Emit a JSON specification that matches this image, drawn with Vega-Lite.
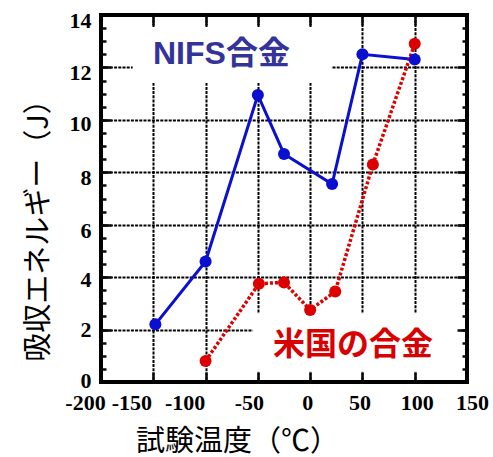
{
  "$schema": "https://vega.github.io/schema/vega-lite/v6.json",
  "width": 366,
  "height": 367,
  "autosize": {"type": "none"},
  "padding": {"left": 101, "top": 15, "right": 26, "bottom": 75},
  "background": "white",
  "config": {
    "view": {"stroke": "black", "strokeWidth": 4},
    "axis": {
      "labelColor": "black", "titleColor": "black", "gridColor": "black",
      "labelFont": "Liberation Serif", "labelFontWeight": "bold", "labelFontSize": 22
    }
  },
  "datasets": {
    "tests": [
      {"alloy": "NIFS合金", "temp": -148, "energy": 2.2},
      {"alloy": "NIFS合金", "temp": -100, "energy": 4.6},
      {"alloy": "NIFS合金", "temp": -50, "energy": 10.95},
      {"alloy": "NIFS合金", "temp": -25, "energy": 8.7},
      {"alloy": "NIFS合金", "temp": 21, "energy": 7.55},
      {"alloy": "NIFS合金", "temp": 50, "energy": 12.5},
      {"alloy": "NIFS合金", "temp": 100, "energy": 12.3},
      {"alloy": "米国の合金", "temp": -100, "energy": 0.8},
      {"alloy": "米国の合金", "temp": -49, "energy": 3.75},
      {"alloy": "米国の合金", "temp": -25, "energy": 3.8},
      {"alloy": "米国の合金", "temp": 0, "energy": 2.75},
      {"alloy": "米国の合金", "temp": 24, "energy": 3.45},
      {"alloy": "米国の合金", "temp": 60, "energy": 8.3},
      {"alloy": "米国の合金", "temp": 100, "energy": 12.9}
    ],
    "names": [
      {"alloy": "NIFS合金", "temp": -84.8, "energy": 12.5, "t0": -169.7, "t1": 20.6, "e0": 11.41, "e1": 13.54},
      {"alloy": "米国の合金", "temp": 41, "energy": 1.4, "t0": -54.6, "t1": 144, "e0": 0.4, "e1": 2.62}
    ]
  },
  "resolve": {
    "scale": {"x": "independent", "y": "independent"},
    "axis": {"x": "independent", "y": "independent"}
  },
  "layer": [
    {
      "data": {"name": "names"},
      "mark": {"type": "rect", "fill": "white", "stroke": null},
      "encoding": {
        "x": {
          "field": "t0", "type": "quantitative",
          "scale": {"domain": [-200, 150], "nice": false, "zero": false},
          "axis": {
            "orient": "bottom",
            "values": [-200, -150, -100, -50, 0, 50, 100, 150],
            "grid": true, "gridDash": [3, 1.2], "gridWidth": 2,
            "ticks": false, "domain": false,
            "labelExpr": "replace(datum.label, '−', '-')",
            "labelPadding": 10, "labelFlush": false, "labelOverlap": false,
            "labelOffset": {
              "condition": [
                {"test": "datum.value === -200", "value": -16},
                {"test": "datum.value === -150", "value": -22},
                {"test": "datum.value === -100", "value": -21},
                {"test": "datum.value === -50", "value": -9},
                {"test": "datum.value === 100", "value": 2},
                {"test": "datum.value === 150", "value": 5}
              ],
              "value": -3
            },
            "title": "試験温度（℃）",
            "titleFont": "Noto Sans CJK JP", "titleFontWeight": "normal", "titleFontSize": 29,
            "titleAlign": "center", "titleBaseline": "alphabetic",
            "titleX": 136, "titleY": 68
          }
        },
        "x2": {"field": "t1"},
        "y": {
          "field": "e0", "type": "quantitative",
          "scale": {"domain": [0, 14], "nice": false, "zero": false},
          "axis": {
            "orient": "left",
            "values": [0, 2, 4, 6, 8, 10, 12, 14],
            "grid": true, "gridDash": [3, 1.2], "gridWidth": 2,
            "ticks": false, "domain": false,
            "labelPadding": 10, "labelFlush": false, "labelOverlap": false,
            "labelOffset": {
              "condition": [
                {"test": "datum.value === 0", "value": -2},
                {"test": "datum.value === 2", "value": 0},
                {"test": "datum.value === 4", "value": 2.5},
                {"test": "datum.value === 10", "value": 4}
              ],
              "value": 5.5
            },
            "title": "吸収エネルギー（J）",
            "titleFont": "Noto Sans CJK JP", "titleFontWeight": "normal", "titleFontSize": 29,
            "titleAngle": 270, "titleAlign": "center", "titleBaseline": "alphabetic",
            "titleX": -54, "titleY": 208
          }
        },
        "y2": {"field": "e1"}
      }
    },
    {
      "data": {"name": "tests"},
      "transform": [{"filter": "datum.alloy === 'NIFS合金'"}],
      "mark": {"type": "line", "strokeWidth": 3},
      "encoding": {
        "x": {
          "field": "temp", "type": "quantitative",
          "scale": {"domain": [-200, 150], "nice": false, "zero": false},
          "axis": {
            "orient": "bottom",
            "values": [-150, -100, -50, 0, 50, 100],
            "labels": false, "domain": false, "grid": false, "ticks": true,
            "tickSize": -10, "tickWidth": 2.5, "tickColor": "#0a0a0a", "tickOpacity": 1, "title": null, "zindex": 1
          }
        },
        "y": {
          "field": "energy", "type": "quantitative",
          "scale": {"domain": [0, 14], "nice": false, "zero": false},
          "axis": {
            "orient": "left",
            "values": [0.5, 1, 1.5, 2, 2.5, 3, 3.5, 4, 4.5, 5, 5.5, 6, 6.5, 7, 7.5, 8, 8.5, 9, 9.5, 10, 10.5, 11, 11.5, 12, 12.5, 13, 13.5],
            "labels": false, "domain": false, "grid": false, "ticks": true,
            "tickSize": -5, "tickWidth": 2.5, "tickColor": "#0a0a0a", "tickOpacity": 1, "title": null, "zindex": 1
          }
        },
        "color": {
          "field": "alloy", "type": "nominal",
          "scale": {"domain": ["NIFS合金", "米国の合金"], "range": ["#0a0fd0", "#dd0000"]},
          "legend": null
        }
      }
    },
    {
      "data": {"name": "tests"},
      "transform": [{"filter": "datum.alloy === '米国の合金'"}],
      "mark": {"type": "line", "strokeWidth": 3.5, "strokeDash": [3, 2]},
      "encoding": {
        "x": {
          "field": "temp", "type": "quantitative",
          "scale": {"domain": [-200, 150], "nice": false, "zero": false},
          "axis": {
            "orient": "top",
            "values": [-150, -100, -50, 0, 50, 100],
            "labels": false, "domain": false, "grid": false, "ticks": true,
            "tickSize": -10, "tickWidth": 2.5, "tickColor": "#0a0a0a", "tickOpacity": 1, "title": null, "zindex": 1
          }
        },
        "y": {
          "field": "energy", "type": "quantitative",
          "scale": {"domain": [0, 14], "nice": false, "zero": false},
          "axis": {
            "orient": "right",
            "values": [0.5, 1, 1.5, 2, 2.5, 3, 3.5, 4, 4.5, 5, 5.5, 6, 6.5, 7, 7.5, 8, 8.5, 9, 9.5, 10, 10.5, 11, 11.5, 12, 12.5, 13, 13.5],
            "labels": false, "domain": false, "grid": false, "ticks": true,
            "tickSize": -5, "tickWidth": 2.5, "tickColor": "#0a0a0a", "tickOpacity": 1, "title": null, "zindex": 1
          }
        },
        "color": {"field": "alloy", "type": "nominal", "legend": null}
      }
    },
    {
      "data": {"name": "tests"},
      "mark": {"type": "circle", "size": 145, "opacity": 1},
      "encoding": {
        "x": {
          "field": "temp", "type": "quantitative",
          "scale": {"domain": [-200, 150], "nice": false, "zero": false},
          "axis": null
        },
        "y": {
          "field": "energy", "type": "quantitative",
          "scale": {"domain": [0, 14], "nice": false, "zero": false},
          "axis": {
            "orient": "right",
            "values": [2, 4, 6, 8, 10, 12],
            "labels": false, "domain": false, "grid": false, "ticks": true,
            "tickSize": -10, "tickWidth": 2.5, "tickColor": "#0a0a0a", "tickOpacity": 1, "title": null, "zindex": 1
          }
        },
        "color": {"field": "alloy", "type": "nominal", "legend": null}
      }
    },
    {
      "data": {"name": "names"},
      "mark": {"type": "text", "fontWeight": "bold", "fontSize": 32, "font": "Liberation Sans, Noto Sans CJK JP", "baseline": "middle", "align": "center"},
      "encoding": {
        "x": {
          "field": "temp", "type": "quantitative",
          "scale": {"domain": [-200, 150], "nice": false, "zero": false},
          "axis": null
        },
        "y": {
          "field": "energy", "type": "quantitative",
          "scale": {"domain": [0, 14], "nice": false, "zero": false},
          "axis": {
            "orient": "left",
            "values": [2, 4, 6, 8, 10, 12],
            "labels": false, "domain": false, "grid": false, "ticks": true,
            "tickSize": -10, "tickWidth": 2.5, "tickColor": "#0a0a0a", "tickOpacity": 1, "title": null, "zindex": 1
          }
        },
        "text": {"field": "alloy"},
        "color": {
          "condition": {"test": "datum.alloy === 'NIFS合金'", "value": "#333399"},
          "value": "#d80000"
        }
      }
    }
  ]
}
